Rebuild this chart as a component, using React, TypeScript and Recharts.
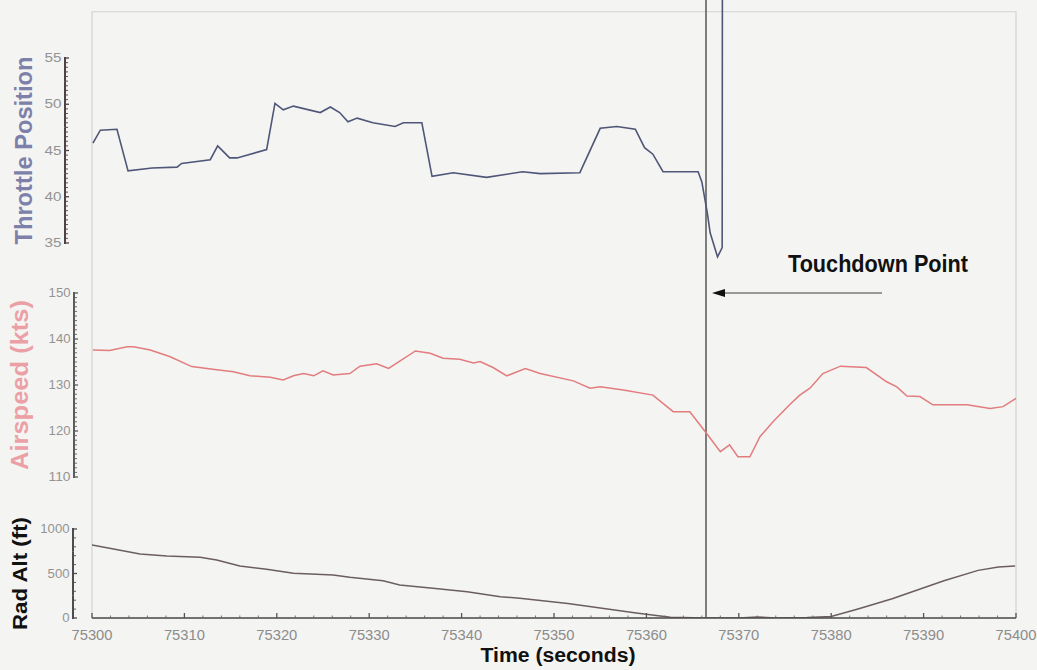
import React from 'react'
import {
  ComposedChart,
  Line,
  XAxis,
  YAxis,
  ReferenceLine,
  ReferenceArea,
} from 'recharts'

// values
const timeTicks = [75300, 75310, 75320, 75330, 75340, 75350, 75360, 75370, 75380, 75390, 75400]
const throttleTicks = [35, 40, 45, 50, 55]
const airspeedTicks = [110, 120, 130, 140, 150]
const radAltTicks = [0, 500, 1000]

const throttleTime = [
  75300.1, 75300.9, 75302.7, 75303.9, 75306.5, 75309.2, 75309.7, 75312.8, 75313.6, 75314.9,
  75315.7, 75318.9, 75319.8, 75320.7, 75321.8, 75324.7, 75325.8, 75326.8, 75327.7, 75328.7,
  75330.4, 75332.8, 75333.7, 75335.7, 75336.8, 75339.1, 75342.7, 75346.6, 75348.5, 75352.8,
  75355.0, 75356.8, 75358.8, 75359.8, 75360.7, 75361.8, 75365.6, 75366.0, 75366.6, 75366.9,
  75367.7, 75368.2, 75368.25,
]
const throttleValue = [
  45.8, 47.2, 47.3, 42.8, 43.1, 43.2, 43.6, 44.0, 45.5, 44.2,
  44.2, 45.1, 50.1, 49.4, 49.8, 49.1, 49.7, 49.1, 48.1, 48.5,
  48.0, 47.6, 48.0, 48.0, 42.2, 42.6, 42.1, 42.7, 42.5, 42.6,
  47.4, 47.6, 47.3, 45.3, 44.6, 42.7, 42.7, 41.6, 38.2, 36.1,
  33.5, 34.5, 95,
]

const airspeedTime = [
  75300.1, 75301.9, 75303.8, 75304.5, 75306.3, 75308.4, 75310.8, 75313.5, 75315.3, 75317.1,
  75319.3, 75320.7, 75321.8, 75322.9, 75324.0, 75325.0, 75326.1, 75327.9, 75329.0, 75330.8,
  75332.1, 75335.0, 75336.6, 75338.0, 75339.8, 75341.3, 75342.0, 75343.4, 75344.9, 75346.9,
  75348.5, 75352.1, 75353.9, 75355.0, 75357.5, 75360.7, 75362.9, 75364.7, 75366.5, 75368.0,
  75369.0, 75369.9, 75371.2, 75372.3, 75373.7, 75375.5, 75376.6, 75377.7, 75379.1, 75381.0,
  75383.8, 75386.0, 75387.1, 75388.2, 75389.6, 75391.0, 75394.7, 75397.2, 75398.6, 75400.0,
]
const airspeedValue = [
  137.6, 137.5, 138.3, 138.3, 137.6, 136.2, 134.0, 133.3, 132.9, 132.0,
  131.7, 131.1, 132.0, 132.5, 132.0, 133.1, 132.2, 132.5, 134.1, 134.6,
  133.6, 137.4, 136.9, 135.8, 135.6, 134.8, 135.1, 133.8, 132.0, 133.6,
  132.5, 130.9, 129.3, 129.6, 128.9, 127.8, 124.2, 124.2, 119.5, 115.5,
  117.0, 114.4, 114.4, 118.8, 122.0, 125.7, 127.8, 129.3, 132.5, 134.1,
  133.8, 130.7, 129.6, 127.6, 127.5, 125.7, 125.7, 124.9, 125.3, 127.1,
]

const radAltTime = [
  75300.0, 75301.9, 75305.2, 75308.1, 75311.7, 75313.5, 75316.0, 75318.9, 75321.8, 75326.1,
  75327.9, 75331.5, 75333.3, 75336.9, 75340.6, 75344.2, 75346.3, 75351.5, 75358.9, 75362.6,
  75366.3, 75370.0, 75372.0, 75374.0, 75377.4, 75380.0, 75382.9, 75386.6, 75392.2, 75395.9,
  75398.1, 75399.9,
]
const radAltValue = [
  820, 783, 719, 697, 682, 652, 584, 547, 502, 483,
  457, 419, 371, 334, 296, 240, 221, 163, 55, 8,
  0, 0, 12, 0, 5, 17, 101, 216, 419, 535,
  573, 584,
]

const touchdownTime = 75366.45
const arrowTailTime = 75385.5
const arrowHeadTime = 75367.1
const arrowLevel = 150 // on the airspeed scale
const frameTop = 60 // on the throttle scale

const toRows = (ts: number[], vs: number[]) => ts.map((t, i) => ({ t, v: vs[i] }))
const throttleData = toRows(throttleTime, throttleValue)
const airspeedData = toRows(airspeedTime, airspeedValue)
const radAltData = toRows(radAltTime, radAltValue)

// layout
const W = 1037
const H = 670
const PLOT_LEFT = 92
const PLOT_RIGHT = 1016
const PLOT_BOTTOM = 618
const Y_AXIS_W = 1 // recharts skips axes with zero width
const FONT = '"Liberation Sans", Arial, sans-serif'

type Band = { lo: number; hi: number; pxLo: number; pxHi: number }
// pixel rows of the lowest / highest tick of every stacked panel
const thrBand: Band = { lo: 35, hi: 55, pxLo: 243, pxHi: 58 }
const airBand: Band = { lo: 110, hi: 150, pxLo: 477, pxHi: 293 }
const altBand: Band = { lo: 0, hi: 1000, pxLo: 618, pxHi: 529 }

const pxPerUnit = (b: Band) => (b.pxLo - b.pxHi) / (b.hi - b.lo)
// stretch each panel's domain so the panel lands on its band of the shared plot area
const bandDomain = (b: Band): [number, number] => [
  b.lo - (PLOT_BOTTOM - b.pxLo) / pxPerUnit(b),
  b.hi + b.pxHi / pxPerUnit(b),
]
const timeDomain: [number, number] = [75300, 75400]

function PanelTick(props: any) {
  const { y, payload, band, step, minor, axisX, axisColor, digitW } = props
  const v = Number(payload.value)
  const stepPx = step * pxPerUnit(band)
  const up = v < band.hi
  const down = v > band.lo
  const marks: number[] = []
  if (up) for (let k = 1; k < minor; k++) marks.push(y - (stepPx * k) / minor)
  const label = String(v)
  return (
    <g>
      <line
        x1={axisX}
        x2={axisX}
        y1={up ? y - stepPx / 2 : y - 1}
        y2={down ? y + stepPx / 2 : y + 1}
        stroke={axisColor}
        strokeWidth={2}
      />
      <line x1={axisX - 1} x2={axisX + 4} y1={y} y2={y} stroke={axisColor} strokeWidth={1.3} />
      {marks.map((m) => (
        <line key={m} x1={axisX} x2={axisX + 3} y1={m} y2={m} stroke={axisColor} strokeWidth={0.9} />
      ))}
      <text
        x={axisX - 3.5}
        y={y + 4}
        textAnchor="end"
        fontSize={12}
        fill="#939393"
        fontFamily={FONT}
        textLength={label.length * digitW}
        lengthAdjust="spacingAndGlyphs"
      >
        {label}
      </text>
    </g>
  )
}

function TimeTick(props: any) {
  const { x, payload } = props
  const v = Number(payload.value)
  const stepPx = (10 * (PLOT_RIGHT - PLOT_LEFT)) / (timeDomain[1] - timeDomain[0])
  const marks: number[] = []
  if (v < timeDomain[1]) for (let k = 1; k < 5; k++) marks.push(x + (stepPx * k) / 5)
  return (
    <g>
      <line x1={x} x2={x} y1={PLOT_BOTTOM} y2={PLOT_BOTTOM - 5} stroke="#555" strokeWidth={1.3} />
      {marks.map((m) => (
        <line key={m} x1={m} x2={m} y1={PLOT_BOTTOM} y2={PLOT_BOTTOM - 2.5} stroke="#666" strokeWidth={0.9} />
      ))}
      <text
        x={x}
        y={PLOT_BOTTOM + 22}
        textAnchor="middle"
        fontSize={14}
        fill="#8c8c8c"
        fontFamily={FONT}
        textLength={41}
        lengthAdjust="spacingAndGlyphs"
      >
        {v}
      </text>
    </g>
  )
}

const sideTitle = (text: string, x: number, band: Band, size: number, length: number, color: string) => () => {
  const cy = (band.pxLo + band.pxHi) / 2
  return (
    <text
      x={x}
      y={cy}
      transform={`rotate(-90, ${x}, ${cy})`}
      textAnchor="middle"
      fontSize={size}
      fontWeight="bold"
      fill={color}
      fontFamily={FONT}
      textLength={length}
      lengthAdjust="spacingAndGlyphs"
    >
      {text}
    </text>
  )
}

const timeTitle = (props: any) => {
  const vb = props.viewBox || { x: PLOT_LEFT, width: PLOT_RIGHT - PLOT_LEFT }
  return (
    <text
      x={vb.x + vb.width / 2 + 4}
      y={662}
      textAnchor="middle"
      fontSize={20}
      fontWeight="bold"
      fill="#111"
      fontFamily={FONT}
      textLength={155}
      lengthAdjust="spacingAndGlyphs"
    >
      Time (seconds)
    </text>
  )
}

function TouchdownArrow(props: any) {
  const { x1, y1, x2, y2 } = props
  return (
    <g>
      <line x1={x1} y1={y1} x2={x2 + 10} y2={y2} stroke="#7a7a7a" strokeWidth={1.6} />
      <polygon points={`${x2},${y2} ${x2 + 13},${y2 - 4} ${x2 + 13},${y2 + 4}`} fill="#111" />
      <text
        x={x1 - 4}
        y={y1 - 21}
        textAnchor="middle"
        fontSize={23}
        fontWeight="bold"
        fill="#111"
        fontFamily={FONT}
        textLength={180}
        lengthAdjust="spacingAndGlyphs"
      >
        Touchdown Point
      </text>
    </g>
  )
}

export default function App() {
  const thrDomain = bandDomain(thrBand)
  const airDomain = bandDomain(airBand)
  const altDomain = bandDomain(altBand)

  return (
    <div style={{ position: 'absolute', left: 0, top: 0, width: W, height: H, background: '#f4f4f2' }}>
      <ComposedChart
        width={W}
        height={H}
        margin={{ top: 0, right: W - PLOT_RIGHT, bottom: 0, left: PLOT_LEFT - 3 * Y_AXIS_W }}
      >
        <ReferenceArea
          yAxisId="thr"
          x1={timeDomain[0]}
          x2={timeDomain[1]}
          y1={thrDomain[0]}
          y2={frameTop}
          fill="none"
          fillOpacity={0}
          stroke="#d2d2d2"
          strokeWidth={1.2}
          ifOverflow="visible"
        />
        <XAxis
          dataKey="t"
          type="number"
          domain={timeDomain}
          allowDataOverflow
          ticks={timeTicks}
          interval={0}
          height={H - PLOT_BOTTOM}
          axisLine={{ stroke: '#4d4d4d', strokeWidth: 1.6 }}
          tickLine={false}
          tick={<TimeTick />}
          label={timeTitle}
        />
        <YAxis
          yAxisId="thr"
          orientation="left"
          width={Y_AXIS_W}
          type="number"
          domain={thrDomain}
          allowDataOverflow
          ticks={throttleTicks}
          interval={0}
          axisLine={false}
          tickLine={false}
          tick={<PanelTick band={thrBand} step={5} minor={10} axisX={65} axisColor="#4e4244" digitW={8.5} />}
          label={sideTitle('Throttle Position', 31.5, thrBand, 23, 188, '#7d81aa')}
        />
        <YAxis
          yAxisId="air"
          orientation="left"
          width={Y_AXIS_W}
          type="number"
          domain={airDomain}
          allowDataOverflow
          ticks={airspeedTicks}
          interval={0}
          axisLine={false}
          tickLine={false}
          tick={<PanelTick band={airBand} step={10} minor={10} axisX={74} axisColor="#5c5c5c" digitW={7.3} />}
          label={sideTitle('Airspeed (kts)', 28, airBand, 23, 170, '#eba0a6')}
        />
        <YAxis
          yAxisId="alt"
          orientation="left"
          width={Y_AXIS_W}
          type="number"
          domain={altDomain}
          allowDataOverflow
          ticks={radAltTicks}
          interval={0}
          axisLine={false}
          tickLine={false}
          tick={<PanelTick band={altBand} step={500} minor={5} axisX={73} axisColor="#4d4d4d" digitW={7.3} />}
          label={sideTitle('Rad Alt (ft)', 27, altBand, 20, 113, '#111')}
        />
        <ReferenceLine yAxisId="thr" x={touchdownTime} stroke="#555" strokeWidth={1.5} />
        <ReferenceLine
          yAxisId="air"
          segment={[
            { x: arrowTailTime, y: arrowLevel },
            { x: arrowHeadTime, y: arrowLevel },
          ]}
          ifOverflow="visible"
          shape={TouchdownArrow}
        />
        <Line
          yAxisId="alt"
          data={radAltData}
          dataKey="v"
          type="linear"
          stroke="#6b5e60"
          strokeWidth={1.5}
          dot={false}
          isAnimationActive={false}
        />
        <Line
          yAxisId="air"
          data={airspeedData}
          dataKey="v"
          type="linear"
          stroke="#e27c7e"
          strokeWidth={1.5}
          dot={false}
          isAnimationActive={false}
        />
        <Line
          yAxisId="thr"
          data={throttleData}
          dataKey="v"
          type="linear"
          stroke="#4f5678"
          strokeWidth={1.6}
          dot={false}
          isAnimationActive={false}
        />
      </ComposedChart>
    </div>
  )
}
